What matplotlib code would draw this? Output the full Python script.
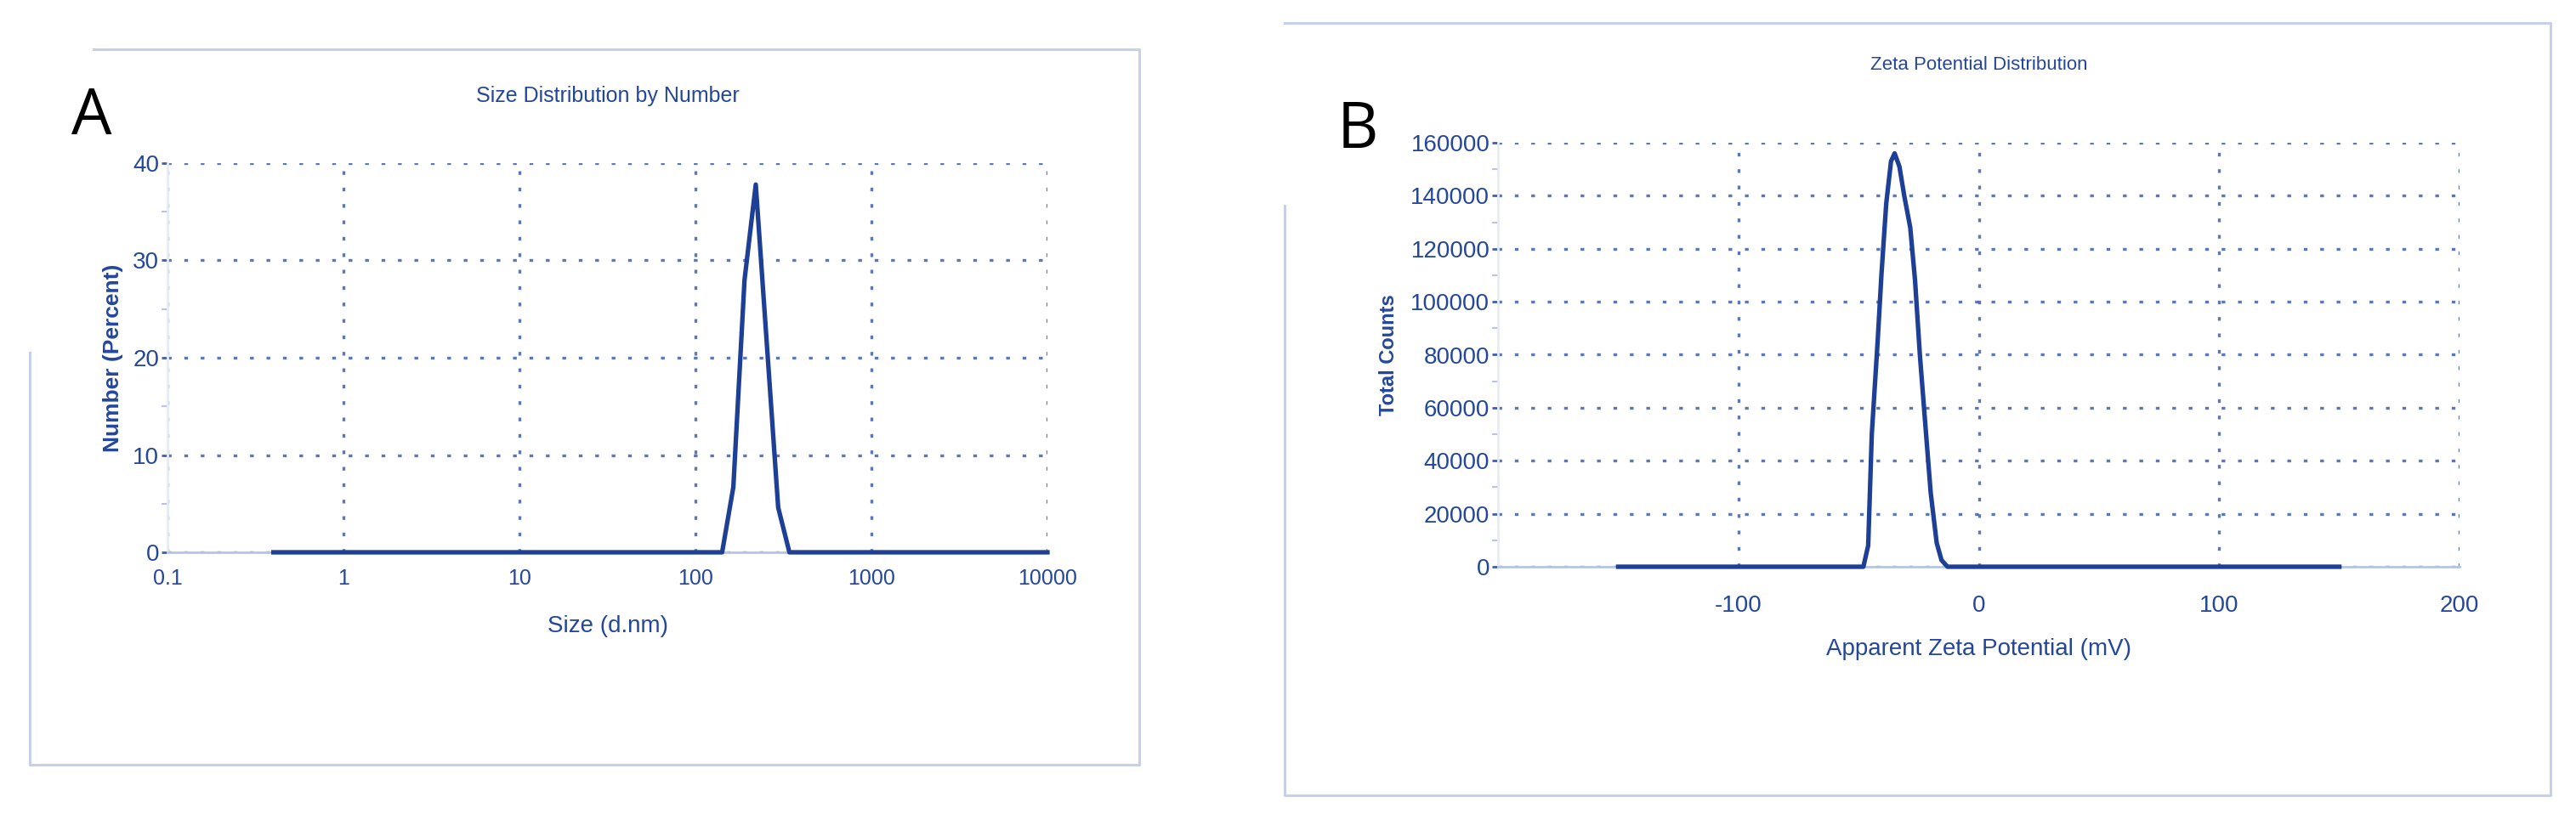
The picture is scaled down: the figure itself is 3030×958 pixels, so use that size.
import matplotlib
matplotlib.use('Agg')
import matplotlib.pyplot as plt
from matplotlib import font_manager
from matplotlib.lines import Line2D
from matplotlib.ticker import FixedLocator

# values
size_nm = [0.4, 141.8, 164.2, 190.1, 220.2, 255.0, 295.3, 342.0, 10000]
number_pct = [0, 0, 6.7, 28.0, 37.8, 21.2, 4.6, 0, 0]

zeta_mv = [-150, -48, -46, -44.5, -42, -40.5, -38.5, -36.5, -35, -33, -31,
           -28.5, -26.5, -24.5, -22, -20, -17.5, -15.5, -13, 150]
counts = [0, 0, 8000, 50000, 86000, 110000, 137000, 153000, 156000, 151000,
          140000, 128000, 108000, 80000, 51000, 28000, 9000, 2500, 0, 0]

size_ticks = [0.1, 1, 10, 100, 1000, 10000]
size_labels = ['0.1', '1', '10', '100', '1000', '10000']
pct_ticks = [0, 10, 20, 30, 40]
pct_minor = [5, 15, 25, 35]
zeta_ticks = [-100, 0, 100, 200]
zeta_labels = ['-100', '0', '100', '200']
count_ticks = [0, 20000, 40000, 60000, 80000, 100000, 120000, 140000, 160000]
count_minor = [10000, 30000, 50000, 70000, 90000, 110000, 130000, 150000]

LINE = '#1d3f95'
TEXT = '#24479a'
GRID = '#3e5fac'
AXIS = '#b7c5e4'
FAINT = '#e6ebf5'
FRAME = '#c6d0e8'

names = set(f.name for f in font_manager.fontManager.ttflist)
NARROW = 'Liberation Sans Narrow' if 'Liberation Sans Narrow' in names else 'Liberation Sans'
plt.rcParams['font.family'] = ['Liberation Sans', 'DejaVu Sans']
plt.rcParams['axes.unicode_minus'] = False

W, H = 3030, 958
fig = plt.figure(figsize=(W / 100, H / 100), dpi=100)


def px_box(x0, x1, y_top, y_bot):
    return [x0 / W, 1 - y_bot / H, (x1 - x0) / W, (y_bot - y_top) / H]


def frame_line(xs, ys):
    fig.add_artist(Line2D([x / W for x in xs], [1 - y / H for y in ys],
                          transform=fig.transFigure, color=FRAME, lw=2.2))


def style_axes(ax):
    for s in ['top', 'right']:
        ax.spines[s].set_visible(False)
    ax.spines['bottom'].set_color(AXIS)
    ax.spines['bottom'].set_linewidth(2)
    ax.spines['left'].set_color(FAINT)
    ax.spines['left'].set_linewidth(2)
    ax.grid(True, which='major', linestyle=(0, (1.3, 4.5)), lw=2.4, color=GRID, alpha=0.85)
    ax.tick_params(axis='x', length=0, colors=TEXT)
    ax.tick_params(axis='y', which='major', length=5, width=2, color=GRID, colors=TEXT, pad=2)
    ax.tick_params(axis='y', which='minor', length=5, width=1.5, color='#b8c4e2')


# ---- panel A: size distribution ----
axA = fig.add_axes(px_box(197, 1232, 192, 650))
axA.set_xscale('log')
axA.plot(size_nm, number_pct, color=LINE, lw=3.8, clip_on=False, zorder=4)
axA.set_xlim(0.1, 10000)
axA.set_ylim(0, 40)
style_axes(axA)
axA.xaxis.set_major_locator(FixedLocator(size_ticks))
axA.xaxis.set_minor_locator(FixedLocator([]))
axA.set_xticklabels(size_labels, fontsize=18, family=NARROW)
axA.yaxis.set_major_locator(FixedLocator(pct_ticks))
axA.yaxis.set_minor_locator(FixedLocator(pct_minor))
axA.set_yticklabels([str(v) for v in pct_ticks], fontsize=20, family=NARROW)
axA.tick_params(axis='x', pad=14)
axA.set_xlabel('Size (d.nm)', fontsize=20, family=NARROW, color=TEXT, labelpad=22)
axA.set_ylabel('Number (Percent)', fontsize=19, fontweight='bold', color=TEXT, labelpad=8)
axA.set_title('Size Distribution by Number', fontsize=18, family=NARROW, color=TEXT, pad=52)

# ---- panel B: zeta potential ----
axB = fig.add_axes(px_box(1762, 2893, 168, 667))
axB.plot(zeta_mv, counts, color=LINE, lw=3.8, clip_on=False, zorder=4)
axB.set_xlim(-200, 200)
axB.set_ylim(0, 160000)
style_axes(axB)
axB.xaxis.set_major_locator(FixedLocator(zeta_ticks))
axB.set_xticklabels(zeta_labels, fontsize=20, family=NARROW)
axB.yaxis.set_major_locator(FixedLocator(count_ticks))
axB.yaxis.set_minor_locator(FixedLocator(count_minor))
axB.set_yticklabels([str(v) for v in count_ticks], fontsize=20, family=NARROW)
axB.tick_params(axis='x', pad=24)
axB.set_xlabel('Apparent Zeta Potential (mV)', fontsize=20, family=NARROW, color=TEXT, labelpad=18)
axB.set_ylabel('Total Counts', fontsize=17, fontweight='bold', color=TEXT, labelpad=10)
axB.set_title('Zeta Potential Distribution', fontsize=16, family=NARROW, color=TEXT, pad=62)

# screenshot frames
frame_line([110, 1340, 1340, 35, 35], [58, 58, 900, 900, 415])
frame_line([1511, 3000, 3000, 1511, 1511], [27, 27, 936, 936, 242])

# panel letters
fig.text(108 / W, 1 - 138 / H, 'A', fontsize=54, family=['Open Sans', 'DejaVu Sans'],
         color='black', ha='center', va='center')
fig.text(1597 / W, 1 - 155 / H, 'B', fontsize=54, family=['Open Sans', 'DejaVu Sans'],
         color='black', ha='center', va='center')

fig.savefig('out.png', dpi=100, facecolor='white')
